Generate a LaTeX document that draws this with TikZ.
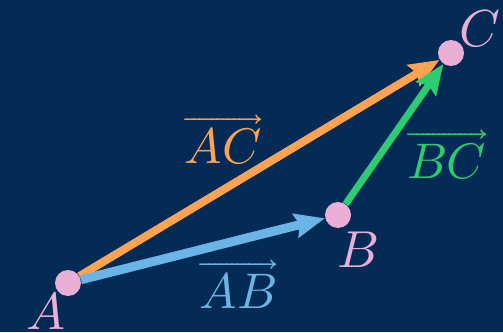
\documentclass[tikz,border=0pt]{standalone}
\usepackage{amsmath}
\usepackage{unicode-math}
\setmathfont{Latin Modern Math}
\usepackage{tikz}
\usetikzlibrary{arrows.meta, positioning}

\definecolor{bgnavy}{HTML}{032B55}
\definecolor{ptpink}{HTML}{EBAED6}
\definecolor{vecorange}{HTML}{FFA352}
\definecolor{vecblue}{HTML}{6AB4E6}
\definecolor{vecgreen}{HTML}{2ECC71}

\begin{document}
\begin{tikzpicture}[
    x=0.5pt, y=-0.5pt,
    dot/.style={circle, fill=ptpink, inner sep=0pt, minimum size=13pt},
    ptlabel/.style={text=ptpink, inner sep=0pt, font=\fontsize{26}{31}\selectfont},
    veclabel/.style={inner sep=0pt, font=\fontsize{25}{30}\selectfont},
    vec/.style={-{Stealth[length=15pt, width=12pt, inset=2pt]}, line cap=butt}
]
    % background
    \fill[bgnavy] (0,0) rectangle (503,332);
    \useasboundingbox (0,0) rectangle (503,332);

    % points
    \node[dot] (A) at (68,283) {};
    \node[dot] (B) at (338,215) {};
    \node[dot] (C) at (451,53) {};

    % vectors
    \draw[vec, vecorange, line width=4pt] (A) -- (C);
    \draw[vec, vecblue, line width=4.5pt] (A) -- (B);
    \draw[vec, vecgreen, line width=3.5pt] (B) -- (C);

    % point labels
    \node[ptlabel] (lblA) at (46,311) {$A$};
    \node[ptlabel] (lblB) at (358,250) {$B$};
    \node[ptlabel] (lblC) at (480,29) {$C$};

    % vector labels
    \node[veclabel, text=vecblue] (lblAB) at (238,284) {$\overrightarrow{AB}$};
    \node[veclabel, text=vecorange] (lblAC) at (223,140) {$\overrightarrow{AC}$};
    \node[veclabel, text=vecgreen] (lblBC) at (447,155) {$\overrightarrow{BC}$};
\end{tikzpicture}
\end{document}
